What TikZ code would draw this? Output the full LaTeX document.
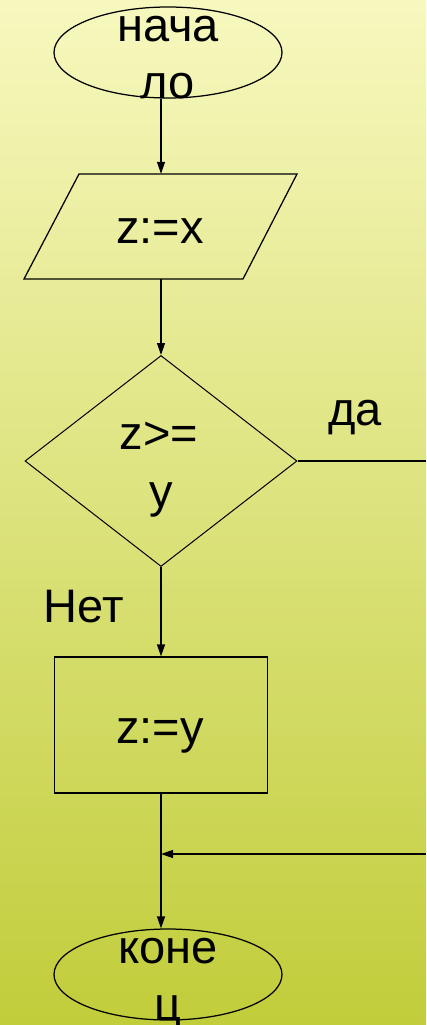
\documentclass[tikz,border=0pt]{standalone}
\usepackage{fontspec}
\setmainfont{Liberation Sans}
\usetikzlibrary{shapes.geometric,arrows.meta}
\definecolor{bgtop}{HTML}{F7F8BE}
\definecolor{bgbot}{HTML}{C1CD3A}
\tikzset{
  shapebox/.style={draw=black, line width=1.25pt, inner sep=0pt},
  txt/.style={anchor=base, inner sep=0pt, font=\fontsize{47}{57}\selectfont},
  arr/.style={draw=black, line width=1.25pt, -{Triangle[length=12pt,width=8pt]}},
  plainline/.style={draw=black, line width=1.25pt}
}
\begin{document}
\begin{tikzpicture}[x=1pt,y=-1pt]
\useasboundingbox (0,0) rectangle (426,1025);
\shade[top color=bgtop, bottom color=bgbot] (0,0) rectangle (426,1025);

% shapes
\node[shapebox, ellipse, minimum width=228pt, minimum height=91pt] (start) at (168,52.5) {};
\node[inner sep=0pt, minimum width=218pt, minimum height=105pt] (par) at (161,226.5) {};
\draw[shapebox] (24,279) -- (79,174) -- (297,174) -- (243,279) -- cycle;
\node[shapebox, line width=1pt, diamond, minimum width=272pt, minimum height=211pt] (dec) at (161,461) {};
\node[shapebox, rectangle, minimum width=213pt, minimum height=136pt] (proc) at (161,725) {};
\node[shapebox, ellipse, minimum width=228pt, minimum height=91pt] (stop) at (168,974.5) {};

% texts
\node[txt] (t1a) at (168,42) {нача};
\node[txt] (t1b) at (168,98) {ло};
\node[txt] (t2) at (160,243) {z:=x};
\node[txt] (t3a) at (159,449) {z>=};
\node[txt] (t3b) at (161,507) {y};
\node[txt] (t4) at (160,743) {z:=y};
\node[txt] (t5a) at (168,963) {коне};
\node[txt] (t5b) at (168,1020) {ц};
\node[txt] (yes) at (355,425) {да};
\node[txt] (no) at (84,622) {Нет};

% connectors
\coordinate (yes1) at (426,461);
\coordinate (yes2) at (426,854);
\draw[arr] (start.south -| par.north) -- (par.north);
\draw[arr] (par.south) -- (dec.north);
\draw[arr] (dec.south) -- (proc.north);
\draw[arr] (proc.south) -- (proc.south |- stop.north);
\draw[plainline] (dec.east) -- (yes1);
\draw[arr] (yes2) -- (yes2 -| proc.south);
\end{tikzpicture}
\end{document}
